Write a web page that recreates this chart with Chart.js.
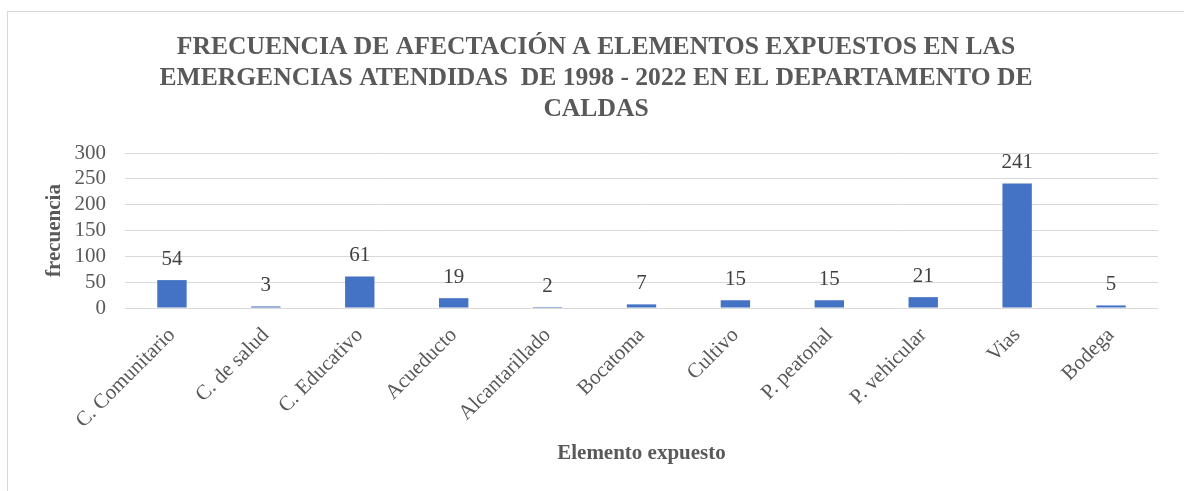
<!DOCTYPE html>
<html>
<head>
<meta charset="utf-8">
<script src="https://cdn.jsdelivr.net/npm/chart.js@4/dist/chart.umd.min.js"></script>
<style>
  html, body { margin: 0; padding: 0; background: #fff; }
  #wrap { position: relative; width: 1184px; height: 491px; overflow: hidden; }
  #frame { position: absolute; left: 7px; top: 11px; width: 1300px; height: 600px; border-left: 1px solid #d9d9d9; border-top: 1px solid #d9d9d9; box-sizing: border-box; }
  canvas { position: absolute; left: 0; top: 0; }
</style>
</head>
<body>
<div id="wrap">
  <div id="frame"></div>
  <canvas id="c" width="1184" height="491"></canvas>
</div>
<script>
const titleLines = [
  'FRECUENCIA DE AFECTACIÓN A ELEMENTOS EXPUESTOS EN LAS',
  'EMERGENCIAS ATENDIDAS  DE 1998 - 2022 EN EL DEPARTAMENTO DE',
  'CALDAS'
];
const categories = ['C. Comunitario', 'C. de salud', 'C. Educativo', 'Acueducto', 'Alcantarillado', 'Bocatoma', 'Cultivo', 'P. peatonal', 'P. vehicular', 'Vias', 'Bodega'];
const values = [54, 3, 61, 19, 2, 7, 15, 15, 21, 241, 5];
const yTicks = [0, 50, 100, 150, 200, 250, 300];
const yTitle = 'frecuencia';
const xTitle = 'Elemento expuesto';

const FONT = "'Liberation Serif', 'Times New Roman', serif";
const TXT = '#595959';

const labelPlugin = {
  id: 'barLabels',
  afterDatasetsDraw(chart) {
    const ctx = chart.ctx;
    const meta = chart.getDatasetMeta(0);
    ctx.save();
    ctx.font = '21px ' + FONT;
    ctx.fillStyle = '#404040';
    ctx.textAlign = 'center';
    ctx.textBaseline = 'alphabetic';
    meta.data.forEach((bar, i) => {
      ctx.fillText(String(values[i]), bar.x, bar.y - 15);
    });
    ctx.restore();
  }
};

new Chart(document.getElementById('c'), {
  type: 'bar',
  data: {
    labels: categories,
    datasets: [{
      data: values,
      backgroundColor: '#4472C4',
      borderWidth: 0,
      barPercentage: 0.313,
      categoryPercentage: 1
    }]
  },
  plugins: [labelPlugin],
  options: {
    responsive: false,
    animation: false,
    devicePixelRatio: 1,
    layout: { padding: { left: 34, right: 26, top: 0, bottom: 0 } },
    plugins: {
      legend: { display: false },
      tooltip: { enabled: false },
      title: {
        display: true,
        text: titleLines,
        color: TXT,
        font: { family: FONT, size: 25.6, weight: 'bold', lineHeight: 31 / 25.6 },
        padding: { top: 32, bottom: 28 }
      }
    },
    scales: {
      x: {
        grid: { display: false, drawTicks: false },
        border: { display: false },
        ticks: {
          color: TXT,
          font: { family: FONT, size: 21 },
          maxRotation: 45,
          minRotation: 45,
          autoSkip: false,
          padding: 15
        },
        title: {
          display: true,
          text: xTitle,
          color: TXT,
          font: { family: FONT, size: 21, weight: 'bold' },
          padding: { top: 0, bottom: 25 }
        },
        afterFit(scale) { scale.height = 183; }
      },
      y: {
        min: yTicks[0],
        max: yTicks[yTicks.length - 1],
        afterBuildTicks(scale) { scale.ticks = yTicks.map(v => ({ value: v })); },
        grid: { color: '#d9d9d9', lineWidth: 1, drawTicks: false },
        border: { display: false },
        ticks: {
          autoSkip: false,
          color: TXT,
          font: { family: FONT, size: 21 },
          padding: 19
        },
        title: {
          display: true,
          text: yTitle,
          color: TXT,
          font: { family: FONT, size: 21, weight: 'bold' },
          padding: { top: 8, bottom: 0 }
        },
        afterFit(scale) { scale.width = 91; }
      }
    }
  }
});
</script>
</body>
</html>
